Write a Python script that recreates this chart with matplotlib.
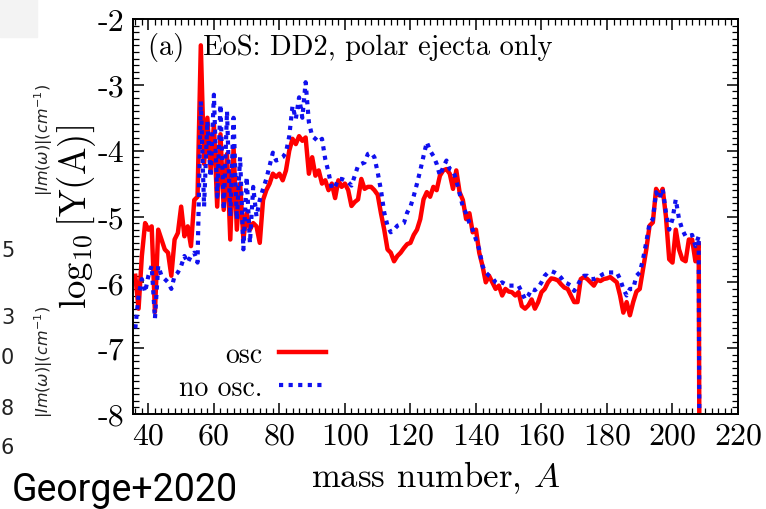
import matplotlib
matplotlib.use('Agg')
import matplotlib.pyplot as plt
from matplotlib.ticker import MultipleLocator
from matplotlib.patches import Rectangle

plt.rcParams['font.family'] = ['cmr10', 'DejaVu Serif']
plt.rcParams['mathtext.fontset'] = 'cm'
plt.rcParams['axes.unicode_minus'] = False
plt.rcParams['axes.formatter.use_mathtext'] = False

# mass number A = 36 .. 209
mass = list(range(36, 210))

osc = [-5.9, -6.4, -5.6, -5.1, -5.2, -5.15, -6.45, -5.2, -5.35, -5.5,        # 36-45
       -5.55, -5.9, -5.35, -5.25, -4.85, -5.3, -5.15, -5.45, -4.75, -4.7,     # 46-55
       -2.4, -4.2, -3.5, -4.3, -3.6, -4.85, -3.75, -4.9, -4.05, -5.35,        # 56-65
       -3.95, -5.2, -4.5, -5.35, -4.95, -5.2, -5.1, -5.15, -5.4, -4.75,       # 66-75
       -4.6, -4.5, -4.35, -4.4, -4.35, -4.45, -4.3, -4.0, -3.82, -3.9,        # 76-85
       -3.78, -3.85, -3.8, -4.35, -4.1, -4.38, -4.3, -4.5, -4.45, -4.6,       # 86-95
       -4.5, -4.72, -4.45, -4.55, -4.5, -4.6, -4.84, -4.78, -4.74, -4.43,     # 96-105
       -4.58, -4.55, -4.55, -4.6, -4.67, -4.95, -5.2, -5.5, -5.55, -5.68,     # 106-115
       -5.6, -5.55, -5.48, -5.42, -5.4, -5.28, -5.2, -5.04, -4.74, -4.63,     # 116-125
       -4.7, -4.55, -4.6, -4.38, -4.3, -4.28, -4.35, -4.58, -4.3, -4.63,      # 126-135
       -4.75, -5.04, -4.95, -5.24, -5.2, -5.55, -5.75, -6.0, -5.9, -6.0,      # 136-145
       -6.1, -6.05, -6.2, -6.1, -6.14, -6.15, -6.2, -6.15, -6.36, -6.4,       # 146-155
       -6.35, -6.26, -6.4, -6.3, -6.15, -6.1, -6.0, -5.94, -5.95, -5.97,      # 156-165
       -6.03, -6.08, -6.1, -6.2, -6.3, -6.3, -5.95, -5.92, -5.95, -6.0,       # 166-175
       -6.05, -5.96, -5.98, -5.95, -5.94, -5.92, -5.96, -6.0, -6.2, -6.46,    # 176-185
       -6.3, -6.5, -6.3, -6.14, -6.1, -5.8, -5.5, -5.14, -5.09, -4.58,        # 186-195
       -4.68, -4.58, -5.0, -5.65, -5.7, -5.2, -5.5, -5.65, -5.68, -5.35,      # 196-205
       -5.35, -5.68, -5.4, -20.0]                                             # 206-209

no_osc = [-6.7, -6.2, -5.95, -6.15, -5.9, -5.75, -6.55, -5.75, -5.9, -5.95,  # 36-45
          -6.0, -6.1, -5.9, -5.85, -5.75, -5.6, -5.7, -5.6, -5.55, -5.7,      # 46-55
          -3.25, -4.85, -3.55, -4.4, -3.15, -4.7, -3.3, -4.9, -3.4, -5.0,     # 56-65
          -3.5, -5.05, -4.1, -5.5, -4.4, -5.4, -4.55, -5.0, -4.75, -4.58,     # 66-75
          -4.43, -4.23, -4.03, -4.15, -4.13, -4.1, -4.03, -3.78, -3.32, -3.52,  # 76-85
          -3.19, -3.5, -2.96, -3.57, -3.78, -3.82, -3.87, -3.82, -4.13, -4.33,  # 86-95
          -4.58, -4.55, -4.43, -4.43, -4.45, -4.48, -4.53, -4.38, -4.23, -4.2,  # 96-105
          -4.18, -4.05, -4.03, -4.1, -4.33, -4.6, -4.94, -5.14, -5.24, -5.2,    # 106-115
          -5.14, -5.12, -5.1, -4.94, -4.85, -4.69, -4.5, -4.3, -4.08, -3.87,    # 116-125
          -4.0, -4.08, -4.2, -4.38, -4.25, -4.15, -4.28, -4.3, -4.45, -4.65,    # 126-135
          -4.85, -4.95, -5.1, -5.2, -5.35, -5.5, -5.75, -5.85, -5.9, -5.93,     # 136-145
          -6.0, -6.03, -6.0, -6.03, -6.05, -6.05, -6.05, -6.05, -6.15, -6.26,   # 146-155
          -6.2, -6.1, -6.12, -6.08, -6.0, -5.9, -5.85, -5.83, -5.85, -5.88,     # 156-165
          -5.93, -6.0, -6.02, -6.05, -6.13, -6.05, -5.95, -5.9, -5.9, -5.95,    # 166-175
          -5.95, -5.93, -5.9, -5.87, -5.85, -5.85, -5.85, -5.85, -5.95, -6.1,   # 176-185
          -6.2, -6.1, -6.1, -5.9, -5.85, -5.65, -5.39, -5.1, -5.04, -4.63,      # 186-195
          -4.73, -4.58, -4.94, -5.2, -5.04, -4.74, -5.04, -5.2, -5.3, -5.3,     # 196-205
          -5.28, -5.45, -5.3, -20.0]                                          # 206-209

fig = plt.figure(figsize=(7.66, 5.10), dpi=100)
ax = fig.add_axes([133/766, 95/510, 605/766, 395/510])

ax.plot(mass, osc, '-', color='#ff0000', lw=3.2, label='osc')
ax.plot(mass, no_osc, linestyle=(0, (1, 1.3)), color='#1010ee', lw=3.0, label='no osc.')

ax.set_xlim(35.3, 220)
ax.set_ylim(-8, -2)
ax.xaxis.set_major_locator(MultipleLocator(20))
ax.xaxis.set_minor_locator(MultipleLocator(2))
ax.yaxis.set_major_locator(MultipleLocator(1))
ax.yaxis.set_minor_locator(MultipleLocator(0.1))
ax.tick_params(which='both', direction='in', top=True, right=True, labelsize=23)
ax.tick_params(which='major', length=8, width=1.1, pad=6)
ax.tick_params(which='minor', length=4, width=0.9)
for s in ax.spines.values():
    s.set_linewidth(1.4)

ax.set_xlabel('mass number, $A$', fontsize=25, labelpad=6)
ax.set_ylabel(r'$\log_{10}[\mathrm{Y(A)}]$', fontsize=26.5, labelpad=0)

ax.text(0.025, 0.93, '(a)  EoS: DD2, polar ejecta only', transform=ax.transAxes,
        fontsize=20.5, va='center', ha='left')

ax.legend(loc='lower left', bbox_to_anchor=(0.035, -0.03), frameon=False,
          markerfirst=False, fontsize=20, handlelength=1.7, labelspacing=0.25,
          handletextpad=0.6)

# leftovers of the neighbouring screenshot
fig.patches.append(Rectangle((0, 472/510), 37/766, 38/510, transform=fig.transFigure,
                             color='#f3f3f3', zorder=0))
im_lab = r'$|Im(\omega)|(cm^{-1})$'
for y in [140, 362]:
    fig.text(44/766, 1 - y/510, im_lab, rotation=90, fontsize=11.5, family='DejaVu Sans',
             math_fontfamily='dejavusans', ha='center', va='center', color='#222222')
side_nums = ['5', '3', '0', '8', '6']
side_y = [251, 318, 358, 409, 448]
for t, y in zip(side_nums, side_y):
    fig.text(1/766, 1 - y/510, t, fontsize=15, family='DejaVu Sans', va='center', ha='left',
             color='#222222')
fig.text(12/766, 1 - 491/510, 'George+2020', fontsize=27, family='Roboto', va='center',
         ha='left', color='black')

fig.savefig('out.png', dpi=100)
